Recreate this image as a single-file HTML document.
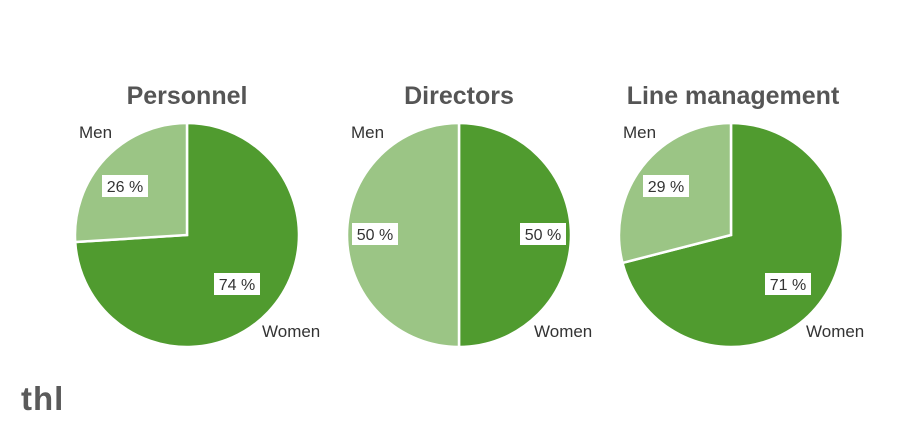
<!DOCTYPE html>
<html><head><style>
body{margin:0;background:#fff;}
svg{display:block;font-family:"Liberation Sans",sans-serif;}
.t{font-size:25px;font-weight:bold;fill:#555;text-anchor:middle;}
.l{font-size:17px;fill:#333;}
.p{font-size:16px;fill:#333;text-anchor:middle;}
</style></head><body>
<svg width="920" height="430" viewBox="0 0 920 430">
<rect width="920" height="430" fill="#fff"/>
<text class="t" x="187" y="104">Personnel</text>
<path d="M187,235 L187,123 A112,112 0 1 1 75.2,242 Z" fill="#509b2f" stroke="#fff" stroke-width="2.5"/>
<path d="M187,235 L75.2,242 A112,112 0 0 1 187,123 Z" fill="#9bc585" stroke="#fff" stroke-width="2.5"/>
<text class="l" x="79" y="138">Men</text>
<text class="l" x="262" y="337">Women</text>
<rect x="102" y="175" width="46" height="22" fill="#fff"/><text class="p" x="125" y="192">26 %</text>
<rect x="214" y="273" width="46" height="22" fill="#fff"/><text class="p" x="237" y="290">74 %</text>
<text class="t" x="459" y="104">Directors</text>
<path d="M459,235 L459,123 A112,112 0 0 1 459,347 Z" fill="#509b2f" stroke="#fff" stroke-width="2.5"/>
<path d="M459,235 L459,347 A112,112 0 0 1 459,123 Z" fill="#9bc585" stroke="#fff" stroke-width="2.5"/>
<text class="l" x="351" y="138">Men</text>
<text class="l" x="534" y="337">Women</text>
<rect x="352" y="223" width="46" height="22" fill="#fff"/><text class="p" x="375" y="240">50 %</text>
<rect x="520" y="223" width="46" height="22" fill="#fff"/><text class="p" x="543" y="240">50 %</text>
<text class="t" x="733" y="104">Line management</text>
<path d="M731,235 L731,123 A112,112 0 1 1 622.5,262.9 Z" fill="#509b2f" stroke="#fff" stroke-width="2.5"/>
<path d="M731,235 L622.5,262.9 A112,112 0 0 1 731,123 Z" fill="#9bc585" stroke="#fff" stroke-width="2.5"/>
<text class="l" x="623" y="138">Men</text>
<text class="l" x="806" y="337">Women</text>
<rect x="643" y="175" width="46" height="22" fill="#fff"/><text class="p" x="666" y="192">29 %</text>
<rect x="765" y="273" width="46" height="22" fill="#fff"/><text class="p" x="788" y="290">71 %</text>
<text x="21" y="410" style="font-size:33px;font-weight:bold;fill:#5a5a5a;letter-spacing:1px">thl</text>
</svg>
</body></html>
